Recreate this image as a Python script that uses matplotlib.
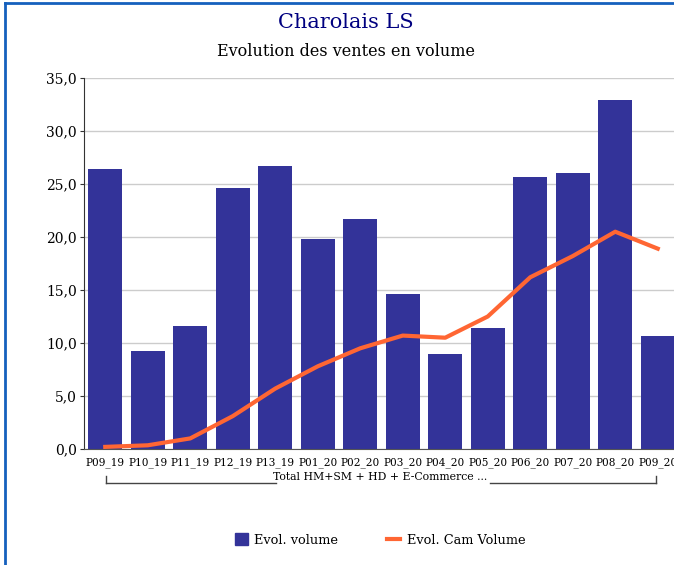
import numpy as np
import matplotlib.pyplot as plt
from matplotlib.lines import Line2D
from matplotlib.patches import Patch

periods = ['P09_19', 'P10_19', 'P11_19', 'P12_19', 'P13_19', 'P01_20', 'P02_20',
           'P03_20', 'P04_20', 'P05_20', 'P06_20', 'P07_20', 'P08_20', 'P09_20']
evol_volume = [26.4, 9.2, 11.6, 24.6, 26.7, 19.8, 21.7, 14.6, 9.0, 11.4, 25.7, 26.0, 32.9, 10.7]
evol_cam_volume = [0.2, 0.35, 1.0, 3.1, 5.7, 7.8, 9.5, 10.7, 10.5, 12.5, 16.2, 18.2, 20.5, 18.9]
yticks = [0, 5, 10, 15, 20, 25, 30, 35]
group_label = 'Total HM+SM + HD + E-Commerce ...'

W, H = 674, 565
plt.rcParams['font.family'] = ['DejaVu Serif']

fig = plt.figure(figsize=(W / 100, H / 100), dpi=100)

# axes spans a bit past the right edge, like the cropped original
ax = fig.add_axes([84 / W, 1 - 449 / H, 595 / W, 371 / H])
x = np.arange(len(periods))
ax.bar(x, evol_volume, width=0.8, color='#333399', zorder=2)
ax.plot(x, evol_cam_volume, color='#ff6633', lw=3, zorder=3)

ax.set_xlim(-0.5, len(periods) - 0.5)
ax.set_ylim(0, 35)
ax.set_yticks(yticks)
ax.set_yticklabels([f'{v:.1f}'.replace('.', ',') for v in yticks], fontsize=10)
ax.set_xticks(x)
ax.set_xticklabels(periods, fontsize=7.6)
ax.tick_params(axis='y', length=3, color='#333333', pad=2)
ax.tick_params(axis='x', length=0, pad=6)
ax.grid(axis='y', color='#cccccc', lw=1, zorder=0)
for s in ['top', 'right']:
    ax.spines[s].set_visible(False)
ax.spines['left'].set_color('#333333')
ax.spines['bottom'].set_color('#555555')

# group bracket under the tick labels
def fx(px):
    return px / W

def fy(py):
    return 1 - py / H

x0, x1, yb, yt = 106, 656, 483, 476
tx0, tx1 = 276, 490
kw = dict(color='#444444', lw=1, transform=fig.transFigure)
fig.add_artist(Line2D([fx(x0), fx(x0)], [fy(yt), fy(yb)], **kw))
fig.add_artist(Line2D([fx(x1), fx(x1)], [fy(yt), fy(yb)], **kw))
fig.add_artist(Line2D([fx(x0), fx(tx0)], [fy(yb), fy(yb)], **kw))
fig.add_artist(Line2D([fx(tx1), fx(x1)], [fy(yb), fy(yb)], **kw))
fig.text(fx(380), fy(477), group_label, ha='center', va='center', fontsize=7.8)

# titles
fig.text(fx(346), fy(22), 'Charolais LS', ha='center', va='center', fontsize=15, color='#000080')
fig.text(fx(346), fy(52), 'Evolution des ventes en volume', ha='center', va='center', fontsize=11.5)

# legend
handles = [Patch(color='#333399'), Line2D([], [], color='#ff6633', lw=3)]
fig.legend(handles, ['Evol. volume', 'Evol. Cam Volume'], loc='center', ncol=2,
           bbox_to_anchor=(fx(380), fy(540)), frameon=False, fontsize=9.3,
           handlelength=1.0, handleheight=1.0, columnspacing=3.8, handletextpad=0.5)

# blue frame (left and top edges visible)
bk = dict(color='#1560bd', lw=2, transform=fig.transFigure)
fig.add_artist(Line2D([fx(5), fx(5)], [fy(3), 0], **bk))
fig.add_artist(Line2D([fx(5), 1], [fy(3), fy(3)], **bk))

fig.savefig('out.png', dpi=100)
